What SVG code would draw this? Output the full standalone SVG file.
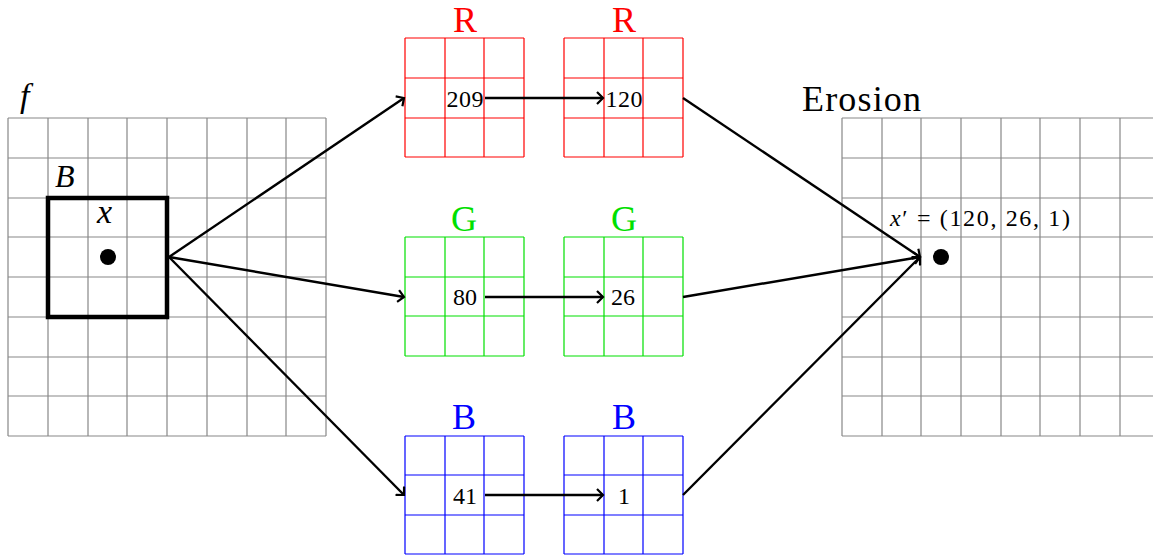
<svg xmlns="http://www.w3.org/2000/svg" width="1153" height="557" viewBox="0 0 1153 557">
<style>
.g{stroke:#888;stroke-width:1.2;fill:none}
.r{stroke:#ff0000;stroke-width:1.2;fill:none}
.gr{stroke:#00e000;stroke-width:1.2;fill:none}
.b{stroke:#0000ff;stroke-width:1.2;fill:none}
.c{stroke:#000;stroke-width:2.4;fill:none;marker-end:url(#ah)}
.t{font-family:"Liberation Serif","DejaVu Serif",serif;fill:#000}
.it{font-style:italic}
.lab{font-size:36px;text-anchor:middle}
.num{font-size:24px;text-anchor:middle}
</style>
<defs>
<marker id="ah" viewBox="-7 -7 9 14" refX="0" refY="0" markerWidth="9" markerHeight="14" markerUnits="userSpaceOnUse" orient="auto">
<path d="M-6,-6 Q-1,-1 0,0 Q-1,1 -6,6" stroke="#000" stroke-width="2.2" fill="none"/>
</marker>
</defs>
<g id="input">
<path class="g" d="M8,118V436M48,118V436M88,118V436M127,118V436M167,118V436M207,118V436M247,118V436M286,118V436M326,118V436M8,118H326M8,158H326M8,198H326M8,237H326M8,277H326M8,317H326M8,357H326M8,396H326M8,436H326"/>
<text class="t it" x="20" y="107" font-size="34">f</text>
<rect x="48" y="198" width="119" height="119" fill="none" stroke="#000" stroke-width="4.5"/>
<text class="t it" x="55" y="187" font-size="32">B</text>
<text class="t it" x="97" y="223" font-size="34">x</text>
<circle cx="108" cy="257" r="8" fill="#000"/>
</g>
<g id="R1">
<path class="r" d="M405,38V157M445,38V157M484,38V157M524,38V157M405,38H524M405,78H524M405,118H524M405,157H524"/>
<text class="t lab" x="465" y="32" style="fill:#ff0000">R</text>
<text class="t num" x="465" y="107" textLength="37">209</text>
</g>
<g id="R2">
<path class="r" d="M564,38V157M604,38V157M643,38V157M683,38V157M564,38H683M564,78H683M564,118H683M564,157H683"/>
<text class="t lab" x="624" y="32" style="fill:#ff0000">R</text>
<text class="t num" x="624" y="107" textLength="37">120</text>
</g>
<g id="G1">
<path class="gr" d="M405,237V356M445,237V356M484,237V356M524,237V356M405,237H524M405,277H524M405,316H524M405,356H524"/>
<text class="t lab" x="464" y="231" style="fill:#00e000">G</text>
<text class="t num" x="465" y="305">80</text>
</g>
<g id="G2">
<path class="gr" d="M564,237V356M604,237V356M643,237V356M683,237V356M564,237H683M564,277H683M564,316H683M564,356H683"/>
<text class="t lab" x="624" y="231" style="fill:#00e000">G</text>
<text class="t num" x="623" y="305">26</text>
</g>
<g id="B1">
<path class="b" d="M405,436V554M445,436V554M484,436V554M524,436V554M405,436H524M405,475H524M405,515H524M405,554H524"/>
<text class="t lab" x="464" y="429" style="fill:#0000ff">B</text>
<text class="t num" x="465" y="504">41</text>
</g>
<g id="B2">
<path class="b" d="M564,436V554M604,436V554M643,436V554M683,436V554M564,436H683M564,475H683M564,515H683M564,554H683"/>
<text class="t lab" x="624" y="429" style="fill:#0000ff">B</text>
<text class="t num" x="624" y="504">1</text>
</g>
<g id="output">
<path class="g" d="M842,118V436M882,118V436M921,118V436M961,118V436M1001,118V436M1040,118V436M1080,118V436M1120,118V436M842,118H1160M842,158H1160M842,198H1160M842,237H1160M842,277H1160M842,317H1160M842,357H1160M842,396H1160M842,436H1160"/>
<text class="t" x="802" y="111" font-size="36" textLength="119">Erosion</text>
<text class="t" x="890" y="226" font-size="24" textLength="180"><tspan font-style="italic">x</tspan>′ = (120, 26, 1)</text>
<circle cx="941" cy="257" r="8" fill="#000"/>
</g>
<g id="connectors">
<path class="c" d="M169,257L404,98"/>
<path class="c" d="M169,257L404,297"/>
<path class="c" d="M169,257L404,495"/>
<path class="c" d="M485,98L603,98"/>
<path class="c" d="M485,297L603,297"/>
<path class="c" d="M485,495L603,495"/>
<path class="c" d="M683,98L920,257"/>
<path class="c" d="M683,297L920,257"/>
<path class="c" d="M683,495L920,257"/>
</g>
</svg>
